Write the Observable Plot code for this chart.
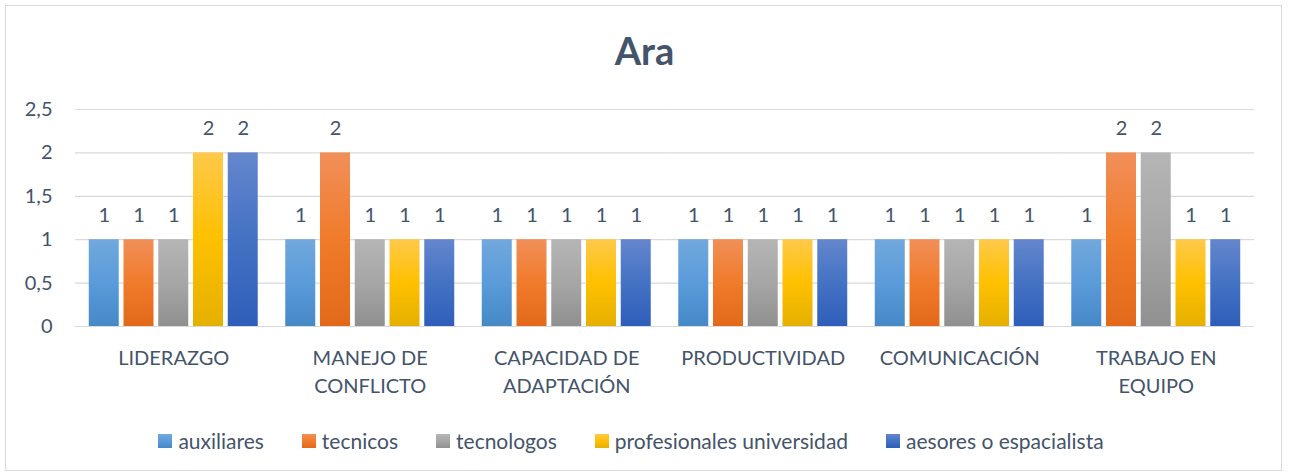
<!DOCTYPE html>
<html>
<head>
<meta charset="utf-8">
<script src="https://cdn.jsdelivr.net/npm/d3@7"></script>
<script src="https://cdn.jsdelivr.net/npm/@observablehq/plot@0.6"></script>
<style>
  html, body { margin: 0; padding: 0; background: #fff; }
  body { width: 1289px; height: 476px; position: relative; overflow: hidden; font-family: Lato, "Open Sans", sans-serif; }
  #frame { position: absolute; left: 5px; top: 5px; width: 1277px; height: 466px; border: 1px solid #D9D9D9; box-sizing: border-box; }
  #title { position: absolute; left: 0; width: 1289px; top: 27px; text-align: center; font-size: 38px; font-weight: bold; color: #44546A; line-height: 46px; }
  #plot { position: absolute; left: 0; top: 90px; }
  #legend { position: absolute; left: 0; width: 1262px; top: 427px; display: flex; justify-content: center; align-items: center; font-size: 21px; color: #44546A; line-height: 28px; }
  .item { display: flex; align-items: center; margin: 0 19px; }
  .sw { width: 14px; height: 14px; margin-right: 6px; }
</style>
</head>
<body>
<div id="frame"></div>
<div id="title">Ara</div>
<div id="plot"></div>
<div id="legend"></div>
<script>
const categories = ["LIDERAZGO", "MANEJO DE\nCONFLICTO", "CAPACIDAD DE\nADAPTACIÓN", "PRODUCTIVIDAD", "COMUNICACIÓN", "TRABAJO EN\nEQUIPO"];
const series = ["auxiliares", "tecnicos", "tecnologos", "profesionales universidad", "aesores o espacialista"];
const auxiliares = [1, 1, 1, 1, 1, 1];
const tecnicos = [1, 2, 1, 1, 1, 2];
const tecnologos = [1, 1, 1, 1, 1, 2];
const profesionales = [2, 1, 1, 1, 1, 1];
const aesores = [2, 1, 1, 1, 1, 1];
const yTicks = [0, 0.5, 1, 1.5, 2, 2.5];

// gradient colours per series: top, middle, bottom
const seriesColors = [
  ["#72A8DD", "#5A9BDA", "#4689C7"],
  ["#F18F59", "#F07B2B", "#E2691A"],
  ["#B5B5B5", "#A6A6A6", "#909090"],
  ["#FFC94A", "#FFC000", "#E5B000"],
  ["#6486CD", "#4472C4", "#2F5EBA"]
];

const seriesValues = [auxiliares, tecnicos, tecnologos, profesionales, aesores];
const rows = [];
categories.forEach((c, ci) => {
  series.forEach((s, si) => rows.push({category: c, series: s, value: seriesValues[si][ci]}));
});

const textColor = "#44546A";

const plot = Plot.plot({
  width: 1289,
  height: 310,
  marginLeft: 75,
  marginRight: 35,
  marginTop: 19,
  marginBottom: 74,
  style: {fontFamily: "Lato, 'Open Sans', sans-serif", fontSize: "18px", color: textColor, background: "transparent", overflow: "visible"},
  fx: {domain: categories, padding: 0, round: false, label: null},
  x: {domain: series, paddingInner: 0.137, paddingOuter: 0.396, round: false, axis: null},
  y: {domain: [0, 2.5], axis: null},
  color: {domain: series, range: series.map((s, i) => `url(#grad${i})`)},
  marks: [
    Plot.ruleY(yTicks, {stroke: "#D9D9D9", strokeWidth: 1.2}),
    Plot.barY(rows, {fx: "category", x: "series", y: "value", fill: "series"}),
    Plot.text(rows, {fx: "category", x: "series", y: "value", text: d => String(d.value).replace(".", ","), dy: -24, fontSize: 20, fill: textColor}),
    Plot.axisY({ticks: yTicks, tickSize: 0, tickPadding: 23, tickFormat: d => String(d).replace(".", ","), fontSize: 20, label: null, fill: textColor}),
    Plot.axisFx({anchor: "bottom", tickSize: 0, tickPadding: 19, lineHeight: 1.4, fontSize: 20, label: null, fill: textColor})
  ]
});

const defs = d3.select(plot).insert("defs", ":first-child");
seriesColors.forEach((cols, i) => {
  const g = defs.append("linearGradient").attr("id", `grad${i}`).attr("x1", 0).attr("y1", 0).attr("x2", 0).attr("y2", 1);
  g.append("stop").attr("offset", "0%").attr("stop-color", cols[0]);
  g.append("stop").attr("offset", "50%").attr("stop-color", cols[1]);
  g.append("stop").attr("offset", "100%").attr("stop-color", cols[2]);
});

document.getElementById("plot").appendChild(plot);

const legend = d3.select("#legend");
series.forEach((s, i) => {
  const item = legend.append("div").attr("class", "item");
  item.append("div").attr("class", "sw")
    .style("background", `linear-gradient(to bottom, ${seriesColors[i][0]}, ${seriesColors[i][1]} 50%, ${seriesColors[i][2]})`);
  item.append("span").text(s);
});
</script>
</body>
</html>
